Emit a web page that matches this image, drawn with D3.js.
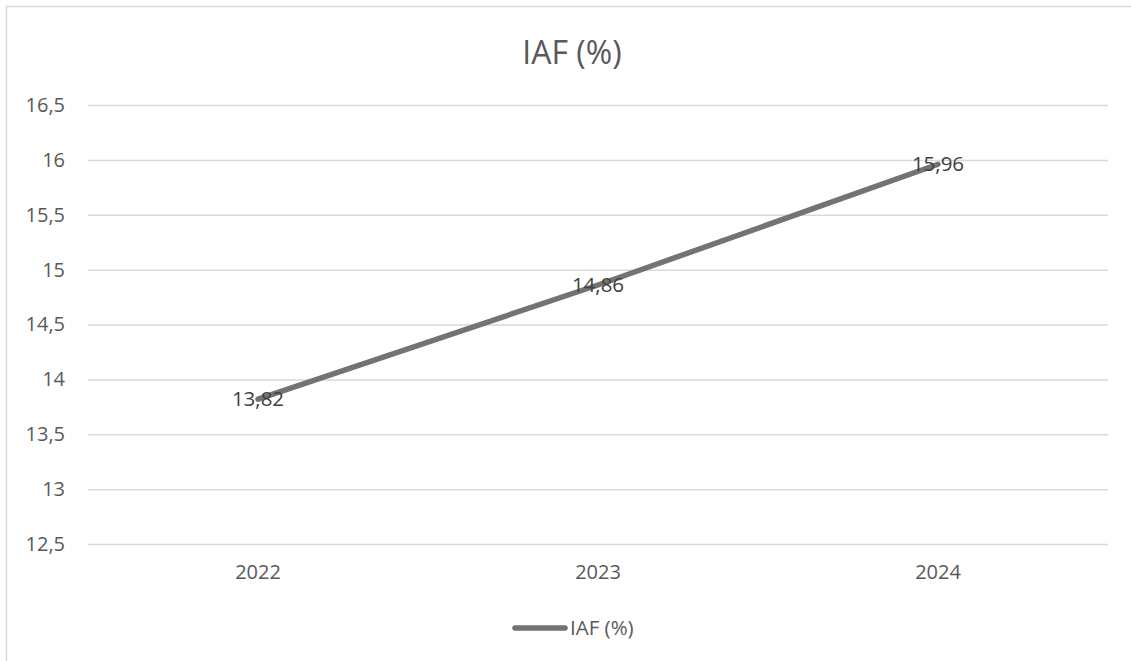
<!DOCTYPE html>
<html>
<head>
<meta charset="utf-8">
<script src="https://cdn.jsdelivr.net/npm/d3@7"></script>
<style>
  html, body { margin: 0; padding: 0; background: #fff; }
  svg { display: block; }
  text { font-family: "Open Sans", "Liberation Sans", sans-serif; }
</style>
</head>
<body>
<svg id="chart" width="1131" height="661"></svg>
<script>
// Annual IAF values (%)
const years = ["2022", "2023", "2024"];
const iafValues = [13.82, 14.86, 15.96];
const yTicks = [12.5, 13, 13.5, 14, 14.5, 15, 15.5, 16, 16.5];
const seriesName = "IAF (%)";
const chartTitle = "IAF (%)";

const W = 1131, H = 661;
const plot = { left: 88, right: 1108, top: 105, bottom: 544 };

const svg = d3.select("#chart");
const fmt = v => String(v).replace(".", ",");

// outer frame (top and left edges visible)
svg.append("path")
  .attr("d", `M6.5,${H} L6.5,6.5 L${W},6.5`)
  .attr("fill", "none")
  .attr("stroke", "#d9d9d9")
  .attr("stroke-width", 1.5);

const x = d3.scaleBand().domain(years).range([plot.left, plot.right]);
const y = d3.scaleLinear().domain([12.5, 16.5]).range([plot.bottom, plot.top]);

// horizontal gridlines + y labels
const yAxis = d3.axisLeft(y)
  .tickValues(yTicks)
  .tickSize(-(plot.right - plot.left))
  .tickPadding(23)
  .tickFormat(fmt);
const gy = svg.append("g")
  .attr("transform", `translate(${plot.left},0)`)
  .call(yAxis);
gy.select(".domain").remove();
gy.selectAll(".tick line").attr("stroke", "#d9d9d9").attr("stroke-width", 1.5);
gy.selectAll(".tick text")
  .attr("fill", "#595959")
  .style("font-size", "20px");

// category labels
const xAxis = d3.axisBottom(x).tickSize(0).tickPadding(21);
const gx = svg.append("g")
  .attr("transform", `translate(0,${plot.bottom})`)
  .call(xAxis);
gx.select(".domain").remove();
gx.selectAll(".tick text")
  .attr("fill", "#595959")
  .style("font-size", "20px");

// series line
const data = years.map((yr, i) => ({ year: yr, value: iafValues[i] }));
const line = d3.line()
  .x(d => x(d.year) + x.bandwidth() / 2)
  .y(d => y(d.value));
svg.append("path")
  .datum(data)
  .attr("d", line)
  .attr("fill", "none")
  .attr("stroke", "#737373")
  .attr("stroke-width", 5.5)
  .attr("stroke-linecap", "round")
  .attr("stroke-linejoin", "round");

// value labels centered on points
svg.append("g").selectAll("text")
  .data(data)
  .join("text")
  .attr("x", d => x(d.year) + x.bandwidth() / 2)
  .attr("y", d => y(d.value))
  .attr("dy", "0.35em")
  .attr("text-anchor", "middle")
  .attr("fill", "#404040")
  .style("font-size", "20.5px")
  .text(d => fmt(d.value));

// title
svg.append("text")
  .attr("x", 572)
  .attr("y", 64)
  .attr("text-anchor", "middle")
  .attr("fill", "#595959")
  .style("font-size", "32px")
  .text(chartTitle);

// legend
const lg = svg.append("g").attr("transform", "translate(0,628)");
lg.append("line")
  .attr("x1", 515).attr("x2", 565)
  .attr("y1", 0).attr("y2", 0)
  .attr("stroke", "#737373")
  .attr("stroke-width", 5.5)
  .attr("stroke-linecap", "round");
lg.append("text")
  .attr("x", 570)
  .attr("y", 0)
  .attr("dy", "0.35em")
  .attr("fill", "#595959")
  .style("font-size", "20.5px")
  .text(seriesName);
</script>
</body>
</html>
